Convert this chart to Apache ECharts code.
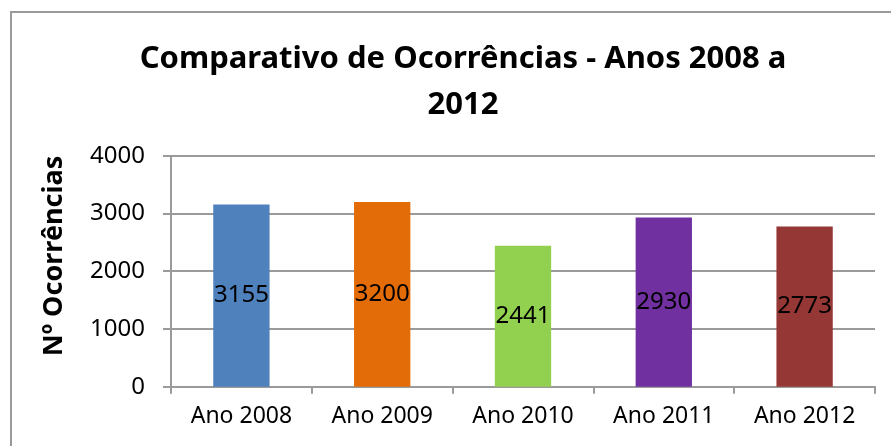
<!DOCTYPE html>
<html>
<head>
<meta charset="utf-8">
<script src="https://cdn.jsdelivr.net/npm/echarts@6/dist/echarts.min.js"></script>
<style>
  html, body { margin: 0; padding: 0; background: #ffffff; }
  #chart { width: 891px; height: 446px; }
</style>
</head>
<body>
<div id="chart"></div>
<script>
// Occurrences per year
const categories = ['Ano 2008', 'Ano 2009', 'Ano 2010', 'Ano 2011', 'Ano 2012'];
const occurrences = [3155, 3200, 2441, 2930, 2773];
const barColors = ['#4F81BD', '#E36C09', '#92D050', '#7030A0', '#953735'];
const yTicks = { min: 0, max: 4000, interval: 1000 };

const titleText = 'Comparativo de Ocorrências - Anos 2008 a\n2012';
const yAxisTitle = 'Nº Ocorrências';

const chart = echarts.init(document.getElementById('chart'), null, { renderer: 'canvas' });

const fontFamily = '"Noto Sans", "DejaVu Sans", sans-serif';
const gridColor = '#9a9a9a';

chart.setOption({
  backgroundColor: '#ffffff',
  animation: false,
  title: {
    text: titleText,
    left: 458,
    top: 31,
    textAlign: 'center',
    textStyle: {
      fontFamily: fontFamily,
      fontWeight: 'bold',
      fontSize: 31,
      lineHeight: 46,
      color: '#000000'
    }
  },
  grid: {
    left: 171,
    right: 16,
    top: 155.7,
    bottom: 59.3,
    containLabel: false
  },
  xAxis: {
    type: 'category',
    data: categories,
    axisLine: { show: true, lineStyle: { color: gridColor, width: 2 } },
    axisTick: { show: true, length: 7, lineStyle: { color: gridColor, width: 2 } },
    axisLabel: {
      margin: 18,
      fontFamily: fontFamily,
      fontSize: 23,
      color: '#000000'
    },
    splitLine: { show: false }
  },
  yAxis: {
    type: 'value',
    min: yTicks.min,
    max: yTicks.max,
    interval: yTicks.interval,
    axisLine: { show: true, lineStyle: { color: gridColor, width: 2 } },
    axisTick: { show: true, length: 8, lineStyle: { color: gridColor, width: 2 } },
    axisLabel: {
      margin: 26,
      fontFamily: fontFamily,
      fontSize: 24,
      color: '#000000',
      formatter: (v) => String(v)
    },
    splitLine: { show: true, lineStyle: { color: gridColor, width: 2 } }
  },
  series: [{
    type: 'bar',
    data: occurrences.map((v, i) => ({ value: v, itemStyle: { color: barColors[i] } })),
    barWidth: '40%',
    label: {
      show: true,
      position: 'inside',
      fontFamily: fontFamily,
      fontSize: 24,
      color: '#000000',
      formatter: (p) => String(p.value)
    }
  }],
  graphic: [
    {
      type: 'rect',
      shape: { x: 11, y: 12, width: 900, height: 460 },
      style: { fill: 'none', stroke: '#9a9a9a', lineWidth: 2 },
      silent: true,
      z: 0
    },
    {
      type: 'text',
      x: 54,
      y: 256,
      rotation: Math.PI / 2,
      style: {
        text: yAxisTitle,
        fontFamily: fontFamily,
        fontWeight: 'bold',
        fontSize: 27,
        fill: '#000000',
        align: 'center',
        verticalAlign: 'middle'
      },
      silent: true
    }
  ]
});
</script>
</body>
</html>
